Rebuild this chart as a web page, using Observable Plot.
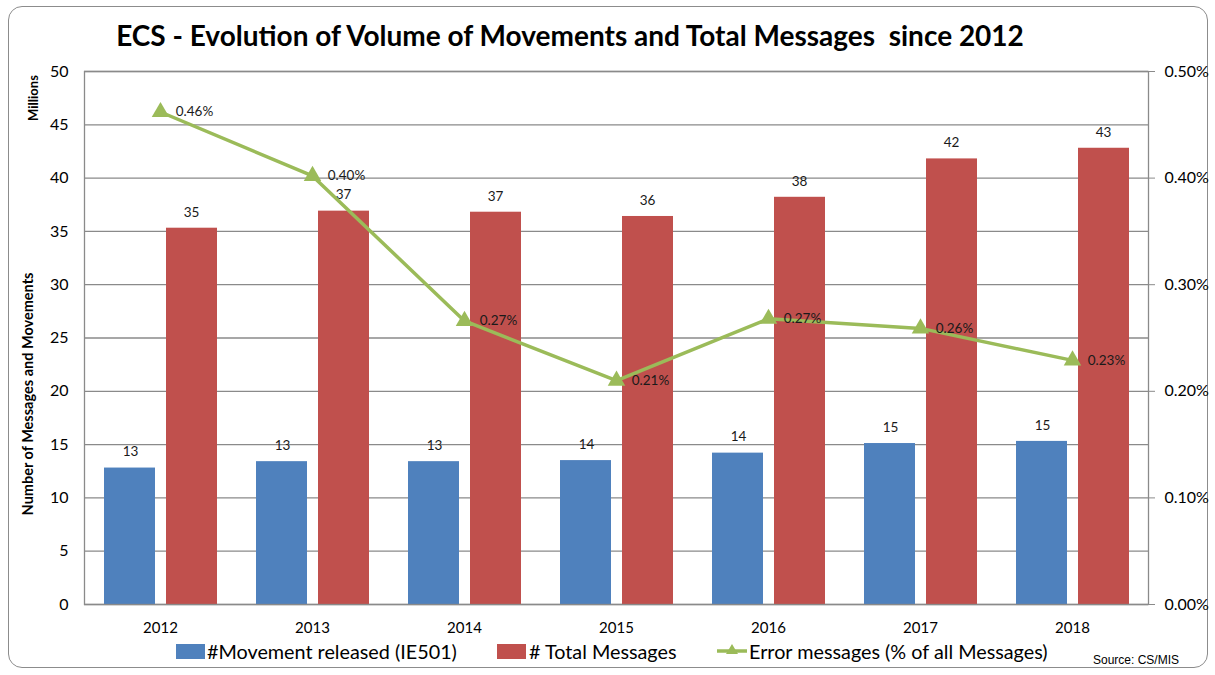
<!DOCTYPE html>
<html>
<head>
<meta charset="utf-8">
<script src="https://cdn.jsdelivr.net/npm/d3@7"></script>
<script src="https://cdn.jsdelivr.net/npm/@observablehq/plot@0.6"></script>
<style>
  html, body { margin: 0; padding: 0; background: #fff; }
  #wrap { position: relative; width: 1215px; height: 675px; overflow: hidden; font-family: Lato, "Open Sans", sans-serif; }
  #border { position: absolute; left: 8px; top: 6px; width: 1198px; height: 660px; border: 1.5px solid #8c8c8c; border-radius: 14px; }
  #title { position: absolute; left: 0; top: 18px; width: 1140px; text-align: center; font-weight: bold; font-size: 28px; color: #000; white-space: pre; }
  #chart { position: absolute; left: 0; top: 0; }
  .lg { position: absolute; top: 640px; font-size: 19.8px; color: #000; white-space: nowrap; line-height: 22px; }
  .key { position: absolute; top: 644px; width: 29px; height: 15px; }
  #source { position: absolute; left: 1093px; top: 653px; font-family: "Liberation Sans", Arial, sans-serif; font-size: 12px; color: #000; }
</style>
</head>
<body>
<div id="wrap">
  <div id="border"></div>
  <div id="chart"></div>
  <div id="title"></div>
  <div id="legend"></div>
  <div id="source"></div>
</div>
<script>
const titleText = "ECS - Evolution of Volume of Movements and Total Messages  since 2012";
const years = ["2012", "2013", "2014", "2015", "2016", "2017", "2018"];
const movements = [12.8, 13.4, 13.4, 13.5, 14.2, 15.1, 15.3];      // millions
const totalMessages = [35.3, 36.9, 36.8, 36.4, 38.2, 41.8, 42.8];  // millions
const errorPct = [0.462, 0.402, 0.266, 0.210, 0.268, 0.259, 0.229]; // percent
const leftTicks = [0, 5, 10, 15, 20, 25, 30, 35, 40, 45, 50];
const rightTicksPct = [0, 0.1, 0.2, 0.3, 0.4, 0.5];
const seriesNames = ["#Movement released (IE501)", "# Total Messages", "Error messages (% of all Messages)"];
const yTitleTop = "Millions";
const yTitle = "Number of Messages and Movements";
const sourceText = "Source: CS/MIS";

const BLUE = "#4F81BD", RED = "#C0504D", GREEN = "#9BBB59", GRID = "#8a8a8a";

const data = years.map((y, i) => ({year: y, mov: movements[i], tot: totalMessages[i], err: errorPct[i]}));
// percent axis (0–0.5%) shares the 0–50 range of the left axis
const pctToLeft = p => p * 100;

const chart = Plot.plot({
  width: 1215,
  height: 650,
  marginTop: 71,
  marginBottom: 46,
  marginLeft: 84,
  marginRight: 67,
  style: {fontFamily: "Lato, 'Open Sans', sans-serif", background: "transparent", color: "#000", overflow: "visible"},
  x: {domain: years, padding: 0, axis: null},
  y: {domain: [0, 50], axis: null},
  marks: [
    Plot.gridY({ticks: leftTicks, stroke: GRID, strokeOpacity: 1, strokeWidth: 1.3}),
    Plot.barY(data, {x: "year", y: "mov", fill: BLUE, insetLeft: 20, insetRight: 81}),
    Plot.barY(data, {x: "year", y: "tot", fill: RED, insetLeft: 82, insetRight: 19}),
    Plot.frame({stroke: GRID, strokeWidth: 1.3}),
    Plot.axisY({anchor: "left", ticks: leftTicks, tickSize: 0, tickPadding: 16, fontSize: 16, label: null}),
    Plot.axisY({anchor: "right", ticks: rightTicksPct.map(pctToLeft), tickSize: 6, tickPadding: 10, fontSize: 16, label: null,
      stroke: GRID, strokeOpacity: 1, tickFormat: d => (d / 100).toFixed(2) + "%"}),
    Plot.axisX({anchor: "bottom", tickSize: 0, tickPadding: 18, fontSize: 15, label: null}),
    Plot.text(data, {x: "year", y: "mov", text: d => Math.round(d.mov), dx: -30, dy: -16, fontSize: 13.5, fill: "#1a1a1a"}),
    Plot.text(data, {x: "year", y: "tot", text: d => Math.round(d.tot), dx: 31, dy: -16, fontSize: 13.5, fill: "#1a1a1a"}),
    Plot.line(data, {x: "year", y: d => pctToLeft(d.err), stroke: GREEN, strokeWidth: 3.5}),
    Plot.dot(data, {x: "year", y: d => pctToLeft(d.err), symbol: "triangle", fill: GREEN, r: 6.5}),
    Plot.text(data, {x: "year", y: d => pctToLeft(d.err), text: d => d.err.toFixed(2) + "%", dx: 34, fontSize: 13.5, fill: "#1a1a1a"}),
    Plot.text([yTitleTop], {text: d => d, frameAnchor: "top-left", dx: -56, dy: 26.5, rotate: -90, textAnchor: "middle", fontWeight: "bold", fontSize: 13}),
    Plot.text([yTitle], {text: d => d, frameAnchor: "left", dx: -56, dy: 56, rotate: -90, textAnchor: "middle", fontWeight: "bold", fontSize: 14.5})
  ]
});
document.getElementById("chart").appendChild(chart);
document.getElementById("title").textContent = titleText;
document.getElementById("source").textContent = sourceText;

// legend
const legend = document.getElementById("legend");
const keyX = [176, 497, 716];
const textX = [207, 529, 749];
const keyColors = [BLUE, RED, GREEN];
seriesNames.forEach((name, i) => {
  if (i < 2) {
    const k = document.createElement("div");
    k.className = "key";
    k.style.left = keyX[i] + "px";
    k.style.background = keyColors[i];
    legend.appendChild(k);
  } else {
    const ns = "http://www.w3.org/2000/svg";
    const s = document.createElementNS(ns, "svg");
    s.setAttribute("width", 32); s.setAttribute("height", 20);
    s.style.position = "absolute"; s.style.left = keyX[i] + "px"; s.style.top = "641px";
    const l = document.createElementNS(ns, "line");
    l.setAttribute("x1", 1); l.setAttribute("x2", 31); l.setAttribute("y1", 10); l.setAttribute("y2", 10);
    l.setAttribute("stroke", GREEN); l.setAttribute("stroke-width", 3.5);
    const t = document.createElementNS(ns, "path");
    t.setAttribute("d", "M16,3 L22,13 L10,13 Z"); t.setAttribute("fill", GREEN);
    s.appendChild(l); s.appendChild(t);
    legend.appendChild(s);
  }
  const t = document.createElement("div");
  t.className = "lg";
  t.style.left = textX[i] + "px";
  t.textContent = name;
  legend.appendChild(t);
});
</script>
</body>
</html>
